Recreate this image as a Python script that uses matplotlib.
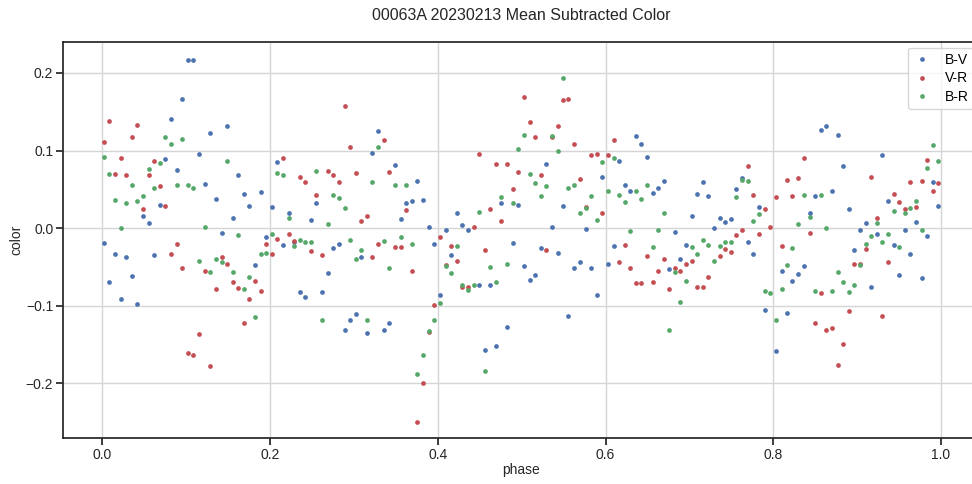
import matplotlib
matplotlib.use("Agg")
import matplotlib.pyplot as plt

# phase / color values
bv_phase = [0.1018, 0.1086, 0.0954, 0.0819, 0.1153, 0.0752, 0.0887, 0.0684, 0.0485, 0.0553,
            0.0020, 0.0152, 0.0283, 0.0617, 0.0084, 0.0350, 0.0219, 0.0418,
            0.1288, 0.1491, 0.1221, 0.1622, 0.1356, 0.1686, 0.1888, 0.1753, 0.1555, 0.2020,
            0.2087, 0.2222, 0.1423, 0.1952, 0.2155, 0.2290, 0.1821, 0.2354, 0.2421,
            0.3288, 0.3220, 0.3490, 0.2552, 0.2485, 0.3625, 0.3689, 0.3558, 0.2755, 0.2822,
            0.3089, 0.2687, 0.2620, 0.2890, 0.2958, 0.3021, 0.3156, 0.3355, 0.3423,
            0.3756, 0.3824, 0.4226, 0.3892, 0.3959, 0.4094, 0.4293, 0.4361, 0.4758, 0.4893,
            0.4158, 0.4023, 0.4492, 0.4627, 0.4559, 0.4695, 0.4826,
            0.5292, 0.4958, 0.5494, 0.5359, 0.5761, 0.5963, 0.6162, 0.5228, 0.5427, 0.5029,
            0.5093, 0.5161, 0.5626, 0.5693, 0.5828, 0.5896, 0.6031, 0.6095, 0.5558,
            0.6361, 0.6428, 0.6496, 0.6230, 0.6297, 0.6560, 0.6627, 0.6695, 0.7096, 0.7164,
            0.7227, 0.7029, 0.7363, 0.7430, 0.7295, 0.6830, 0.6961, 0.6893, 0.6762,
            0.8567, 0.8630, 0.7629, 0.7561, 0.7827, 0.7494, 0.8432, 0.8499, 0.8698, 0.7696,
            0.7764, 0.8098, 0.8229, 0.8297, 0.8364, 0.7899, 0.8165, 0.8030,
            0.8766, 0.9299, 0.8834, 0.8902, 0.9367, 0.9100, 0.9033, 0.9232, 0.9565, 0.9701,
            0.9832, 0.9903, 0.9967, 0.8965, 0.9434, 0.9633, 0.9502, 0.9768, 0.9168]
bv_color = [0.217, 0.217, 0.167, 0.141, 0.095, 0.089, 0.075, 0.030, 0.016, 0.007,
            -0.019, -0.034, -0.037, -0.035, -0.069, -0.062, -0.092, -0.098,
            0.122, 0.131, 0.057, 0.069, 0.037, 0.044, 0.047, 0.029, 0.013, 0.027,
            0.085, 0.020, -0.006, -0.012, -0.022, -0.018, -0.047, -0.082, -0.089,
            0.125, 0.097, 0.081, 0.032, 0.011, 0.032, 0.035, 0.012, -0.026, -0.020,
            -0.037, -0.058, -0.083, -0.132, -0.119, -0.111, -0.135, -0.131, -0.123,
            0.061, 0.036, 0.020, 0.001, -0.020, -0.002, 0.004, -0.003, 0.032, -0.019,
            -0.035, -0.086, -0.073, -0.073, -0.157, -0.152, -0.128,
            0.082, 0.030, 0.028, 0.002, -0.001, 0.066, 0.087, -0.026, -0.032, -0.049,
            -0.067, -0.060, -0.052, -0.044, -0.052, -0.086, -0.046, -0.023, -0.114,
            0.119, 0.108, 0.092, 0.055, 0.048, 0.045, 0.052, 0.061, 0.044, 0.060,
            0.042, 0.016, 0.013, 0.008, 0.000, -0.005, -0.022, -0.040, -0.053,
            0.127, 0.131, 0.065, 0.050, 0.027, 0.012, 0.019, 0.041, 0.048, -0.018,
            -0.034, -0.055, -0.068, -0.059, -0.049, -0.105, -0.110, -0.159,
            0.120, 0.094, 0.080, 0.025, 0.035, 0.007, -0.003, -0.008, -0.003, 0.008,
            -0.010, 0.059, 0.028, -0.028, -0.022, -0.034, -0.060, -0.064, -0.076]

vr_phase = [0.0084, 0.0418, 0.0350, 0.0020, 0.0219, 0.0617, 0.0152, 0.0283, 0.0553, 0.0684,
            0.0485, 0.0752, 0.0887, 0.0819, 0.0954, 0.1153, 0.1018, 0.1086,
            0.2155, 0.2354, 0.2421, 0.1221, 0.1423, 0.1488, 0.1356, 0.1555, 0.1622, 0.1753,
            0.1821, 0.1888, 0.1952, 0.2020, 0.2087, 0.2222, 0.2286, 0.1686, 0.1288,
            0.2890, 0.2958, 0.3355, 0.2687, 0.2755, 0.2822, 0.3021, 0.3423, 0.2552, 0.3089,
            0.3156, 0.3625, 0.2485, 0.2620, 0.3220, 0.3288, 0.3490, 0.3558, 0.3689,
            0.4492, 0.4695, 0.4826, 0.4893, 0.4627, 0.4758, 0.4428, 0.4023, 0.4158, 0.4226,
            0.4094, 0.4559, 0.4293, 0.4361, 0.3959, 0.3892, 0.3824, 0.3756,
            0.5029, 0.5494, 0.5558, 0.5093, 0.5161, 0.5359, 0.5427, 0.5626, 0.5828, 0.5896,
            0.6031, 0.6095, 0.4958, 0.5228, 0.5693, 0.5761, 0.5963, 0.5292, 0.6162,
            0.6230, 0.6496, 0.6297, 0.6695, 0.6627, 0.6361, 0.6428, 0.6560, 0.6762, 0.6830,
            0.6893, 0.6961, 0.7029, 0.7096, 0.7164, 0.7227, 0.7363, 0.7430,
            0.7696, 0.8364, 0.8165, 0.8297, 0.7764, 0.8030, 0.8229, 0.7899, 0.7963, 0.7629,
            0.7561, 0.7827, 0.8432, 0.7494, 0.8098, 0.8567, 0.8499, 0.8630, 0.8698,
            0.9832, 0.9168, 0.9633, 0.9768, 0.9903, 0.9967, 0.9434, 0.9502, 0.9565, 0.9701,
            0.9232, 0.9100, 0.8965, 0.9033, 0.9367, 0.8902, 0.9299, 0.8834, 0.8766]
vr_color = [0.138, 0.133, 0.117, 0.111, 0.091, 0.086, 0.070, 0.069, 0.069, 0.054,
            0.024, 0.029, -0.020, -0.033, -0.052, -0.137, -0.161, -0.164,
            0.091, 0.066, 0.059, -0.055, -0.037, -0.046, -0.078, -0.070, -0.077, -0.092,
            -0.068, -0.081, -0.020, -0.034, -0.014, -0.007, -0.017, -0.123, -0.178,
            0.158, 0.104, 0.114, 0.074, 0.069, 0.059, 0.071, 0.072, 0.043, 0.009,
            0.015, 0.023, -0.029, -0.035, -0.037, -0.021, -0.025, -0.024, -0.055,
            0.095, 0.082, 0.082, 0.051, 0.024, 0.009, 0.001, -0.012, -0.023, -0.043,
            -0.047, -0.028, -0.076, -0.076, -0.099, -0.134, -0.200, -0.250,
            0.169, 0.165, 0.166, 0.137, 0.117, 0.118, 0.131, 0.108, 0.094, 0.096,
            0.094, 0.113, 0.072, 0.068, 0.063, 0.027, 0.019, -0.028, -0.044,
            -0.022, -0.036, -0.052, -0.040, -0.055, -0.071, -0.071, -0.069, -0.079, -0.051,
            -0.055, -0.046, -0.042, -0.076, -0.076, -0.063, -0.036, -0.027,
            0.080, 0.091, 0.062, 0.064, 0.043, 0.040, 0.042, 0.024, 0.001, -0.003,
            -0.009, -0.008, -0.006, -0.031, -0.023, -0.084, -0.122, -0.131, -0.129,
            0.088, 0.066, 0.060, 0.061, 0.048, 0.058, 0.044, 0.034, 0.024, 0.027,
            0.013, -0.027, -0.046, -0.046, -0.044, -0.107, -0.113, -0.149, -0.177]

br_phase = [0.0752, 0.0819, 0.0954, 0.0020, 0.0553, 0.0684, 0.0084, 0.0350, 0.0617, 0.0887,
            0.1018, 0.1086, 0.0152, 0.0283, 0.0418, 0.0485, 0.0219, 0.1153,
            0.1491, 0.2087, 0.2155, 0.1221, 0.2222, 0.1622, 0.1356, 0.1423, 0.1288, 0.1555,
            0.1753, 0.1686, 0.1888, 0.1952, 0.2020, 0.2286, 0.2354, 0.2421, 0.1821,
            0.2552, 0.3288, 0.3220, 0.3490, 0.3625, 0.2755, 0.2822, 0.2890, 0.2687, 0.2485,
            0.2958, 0.3021, 0.3089, 0.3355, 0.3423, 0.3558, 0.3689, 0.2620, 0.3156,
            0.4758, 0.4893, 0.4492, 0.4226, 0.4094, 0.4158, 0.4627, 0.4826, 0.4293, 0.4361,
            0.4428, 0.4695, 0.4023, 0.3959, 0.3892, 0.3824, 0.3756, 0.4559,
            0.5494, 0.5029, 0.5359, 0.4958, 0.5427, 0.5963, 0.6095, 0.5093, 0.5161, 0.5292,
            0.5228, 0.5558, 0.5626, 0.5828, 0.5761, 0.5693, 0.5896, 0.6031, 0.6162,
            0.6230, 0.6361, 0.6428, 0.6496, 0.6695, 0.6297, 0.6627, 0.6560, 0.6830, 0.6961,
            0.7029, 0.7096, 0.7164, 0.7227, 0.7295, 0.7363, 0.7430, 0.6893, 0.6762,
            0.7629, 0.7696, 0.7561, 0.7827, 0.7764, 0.8297, 0.8432, 0.8364, 0.8567, 0.8630,
            0.7494, 0.8229, 0.8165, 0.8098, 0.7899, 0.7963, 0.8499, 0.8698, 0.8030,
            0.9903, 0.9967, 0.9832, 0.9701, 0.9633, 0.9565, 0.9434, 0.9232, 0.9168, 0.9100,
            0.9299, 0.9367, 0.9502, 0.9768, 0.9033, 0.8766, 0.8834, 0.8965, 0.8902]
br_color = [0.117, 0.108, 0.115, 0.092, 0.076, 0.084, 0.070, 0.055, 0.052, 0.055,
            0.056, 0.052, 0.036, 0.032, 0.035, 0.041, 0.000, -0.042,
            0.086, 0.071, 0.069, 0.002, 0.013, -0.009, -0.040, -0.044, -0.056, -0.057,
            -0.063, -0.079, -0.034, -0.032, -0.007, -0.023, -0.016, -0.018, -0.115,
            0.074, 0.105, 0.060, 0.056, 0.055, 0.043, 0.039, 0.026, 0.005, -0.018,
            -0.015, -0.040, -0.028, -0.017, -0.051, -0.011, -0.021, -0.118, -0.119,
            0.040, 0.032, 0.021, -0.023, -0.049, -0.058, -0.050, -0.046, -0.073, -0.080,
            -0.073, -0.070, -0.097, -0.119, -0.133, -0.164, -0.188, -0.184,
            0.193, 0.120, 0.119, 0.102, 0.099, 0.085, 0.090, 0.070, 0.058, 0.054,
            0.042, 0.052, 0.055, 0.042, 0.026, 0.019, 0.010, 0.048, 0.043,
            0.034, 0.048, 0.038, 0.056, 0.020, -0.004, -0.002, -0.024, -0.056, -0.068,
            -0.025, -0.033, -0.016, -0.022, -0.043, -0.023, -0.018, -0.095, -0.132,
            0.062, 0.061, 0.040, 0.018, 0.009, 0.005, 0.014, 0.043, 0.043, 0.000,
            -0.018, -0.026, -0.047, -0.078, -0.081, -0.084, -0.081, -0.081, -0.119,
            0.107, 0.086, 0.078, 0.035, 0.026, 0.020, 0.022, 0.006, -0.010, -0.020,
            -0.018, -0.008, -0.025, -0.003, -0.048, -0.057, -0.069, -0.073, -0.082]

plt.rcParams['font.family'] = ['Liberation Sans', 'DejaVu Sans']

fig = plt.figure(figsize=(9.72, 4.84), dpi=100)
ax = fig.add_axes([0.0648, 0.095, 0.943, 0.818])

ax.plot(bv_phase, bv_color, 'o', ms=3.4, mec='none', color='#4c72b0', label='B-V')
ax.plot(vr_phase, vr_color, 'o', ms=3.4, mec='none', color='#c44e52', label='V-R')
ax.plot(br_phase, br_color, 'o', ms=3.4, mec='none', color='#55a868', label='B-R')

ax.set_xlim(-0.047, 1.046)
ax.set_ylim(-0.2707, 0.2398)
ax.set_xticks([0.0, 0.2, 0.4, 0.6, 0.8, 1.0])
ax.set_yticks([-0.2, -0.1, 0.0, 0.1, 0.2])
ax.grid(True, color='#d5d5d5', lw=1)
ax.set_axisbelow(True)
for s in ax.spines.values():
    s.set_color('#262626')
    s.set_linewidth(1.25)
ax.tick_params(colors='#262626', labelsize=10, length=5, width=1.25, pad=2)

ax.set_xlabel('phase', fontsize=10, color='#262626', labelpad=1)
ax.set_ylabel('color', fontsize=10, color='#262626', labelpad=2)
ax.set_title('00063A 20230213 Mean Subtracted Color', fontsize=11.5, pad=16, color='#262626')
ax.legend(loc='upper right', fontsize=10, framealpha=0.8, edgecolor='#cccccc',
          handlelength=1.2, handletextpad=1.0, labelspacing=0.3, borderaxespad=0.4)

fig.savefig('out.png', dpi=100)
